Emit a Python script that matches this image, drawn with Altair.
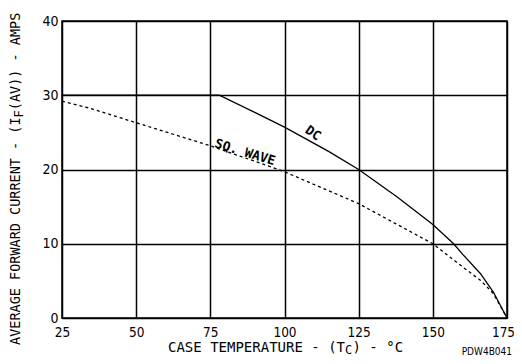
import altair as alt
import pandas as pd

# ---- data ----
dc_temp = [25, 78, 92, 100, 115, 125, 138, 150, 157, 160, 166, 170.4, 175]
dc_amps = [30, 30, 27.3, 25.7, 22.4, 20, 16.3, 12.6, 10, 8.6, 6.0, 3.5, 0]
sq_temp = [25, 34, 50, 75, 100, 125, 150, 160, 166, 170.4, 175]
sq_amps = [29.2, 28.3, 26.3, 23.2, 19.7, 15.4, 10, 6.9, 5.1, 3.3, 0]
x_ticks = [25, 50, 75, 100, 125, 150, 175]
y_ticks = [0, 10, 20, 30, 40]
curve_names = ["DC", "SQ. WAVE"]
name_temp = [109.6, 86.7]
name_amps = [24.9, 22.3]

dc = pd.DataFrame({"t": dc_temp, "a": dc_amps})
sq = pd.DataFrame({"t": sq_temp, "a": sq_amps})
names = pd.DataFrame({"t": name_temp, "a": name_amps, "n": curve_names})

X = alt.X("t:Q", scale=alt.Scale(domain=[25, 175], nice=False, zero=False),
          axis=alt.Axis(values=x_ticks, title=None, labelPadding=7, labelFlush=False,
                        labelFontSize=13.5,
                        labelOffset={"expr": "datum.value == 175 ? -4 : 0"}))
Y = alt.Y("a:Q", scale=alt.Scale(domain=[0, 40], nice=False),
          axis=alt.Axis(values=y_ticks, title=None, labelPadding=4))

dc_line = alt.Chart(dc).mark_line(color="black", strokeWidth=1.3).encode(x=X, y=Y)
sq_line = alt.Chart(sq).mark_line(color="black", strokeWidth=1.3, strokeDash=[3, 3]).encode(x=X, y=Y)

dc_lab = alt.Chart(names.iloc[[0]]).mark_text(
    font="DejaVu Sans Mono", fontWeight="bold", fontSize=13, angle=35, color="black"
).encode(x="t:Q", y="a:Q", text="n:N")
sq_lab = alt.Chart(names.iloc[[1]]).mark_text(
    font="DejaVu Sans Mono", fontWeight="bold", fontSize=13, angle=17, color="black"
).encode(x="t:Q", y="a:Q", text="n:N")

TF = "DejaVu Sans Mono"


def txt(s, x, y, size=14, angle=0, align="left", baseline="alphabetic", font=TF):
    return alt.Chart(pd.DataFrame({"s": [s]})).mark_text(
        font=font, fontSize=size, angle=angle, align=align, baseline=baseline, color="black"
    ).encode(x=alt.value(x), y=alt.value(y), text="s:N")


# x-axis title with subscript
xt1 = txt("CASE TEMPERATURE - (T", 106, 330.5)
xt2 = txt("C", 283, 332.5, size=12)
xt3 = txt(") - °C", 290.5, 330.5)

# y-axis title with subscript (rotated)
yt1 = txt("AVERAGE FORWARD CURRENT - (I", -46, 324, size=13.5, angle=270, baseline="middle")
yt2 = txt("F", -43, 96.4, size=12, angle=270, baseline="middle")
yt3 = txt("(AV)) - AMPS", -46, 89.2, size=13.5, angle=270, baseline="middle")

code = txt("PDW4B041", 450, 334, size=10, align="right",
           font="Liberation Sans Narrow, DejaVu Sans Condensed, sans-serif")

chart = alt.layer(
    dc_line, sq_line, dc_lab, sq_lab, xt1, xt2, xt3, yt1, yt2, yt3, code
).properties(
    width=445, height=297,
    autosize=alt.AutoSizeParams(type="none"),
    padding={"left": 54, "top": 13, "right": 7, "bottom": 38},
).configure_view(
    stroke="black", strokeWidth=1.5
).configure_axis(
    grid=True, gridColor="black", gridWidth=1.5, gridOpacity=1,
    domain=False, ticks=False, labelColor="black",
    labelFont="Liberation Sans Narrow, DejaVu Sans Condensed, sans-serif",
    labelFontSize=14,
)

chart.save("out.html", embed_options={"renderer": "svg", "actions": False})
